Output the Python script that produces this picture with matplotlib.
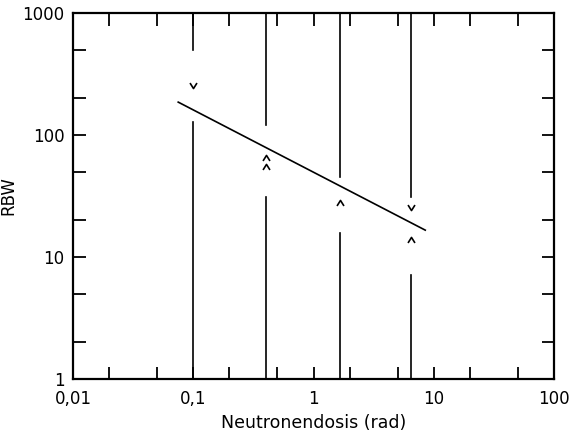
import matplotlib.pyplot as plt
from matplotlib.ticker import FixedLocator, NullFormatter

# vertical dose lines (rad) and where each one is interrupted
dose = [0.1, 0.4, 1.65, 6.5]
upper_end = [500, 121, 45, 31]     # upper segment runs from top down to here
lower_start = [128, 31, 15.7, 7.1]  # lower segment runs from bottom up to here

# RBW markers
down_x = [0.1, 6.5]
down_y = [250, 25]
up_x = [0.4, 0.4, 1.65, 6.5]
up_y = [66, 56, 28, 14]

# fitted line
fit_x = [0.075, 8.5]
fit_y = [186, 16.6]

xticks = [0.01, 0.1, 1, 10, 100]
xticklabels = ['0,01', '0,1', '1', '10', '100']
yticks = [1, 10, 100, 1000]
yticklabels = ['1', '10', '100', '1000']

fig = plt.figure(figsize=(5.71, 4.33), dpi=100)
ax = fig.add_axes([73 / 571, 1 - 379 / 433, 481 / 571, 366 / 433])
ax.set_xscale('log')
ax.set_yscale('log')
ax.set_xlim(0.01, 100)
ax.set_ylim(1, 1000)

for x, hi, lo in zip(dose, upper_end, lower_start):
    ax.plot([x, x], [hi, 1000], color='black', lw=1.2)
    ax.plot([x, x], [1, lo], color='black', lw=1.2)

ax.plot(fit_x, fit_y, color='black', lw=1.2)

vee = [(-1, 1), (0, -0.6), (1, 1)]
hat = [(-1, -1), (0, 0.6), (1, -1)]
ax.plot(down_x, down_y, ls='none', marker=vee, ms=5, mfc='none', mec='black', mew=1.2)
ax.plot(up_x, up_y, ls='none', marker=hat, ms=5, mfc='none', mec='black', mew=1.2)

minor_x = [m * 10.0 ** e for e in range(-2, 2) for m in (2, 5)]
minor_y = [m * 10.0 ** e for e in range(0, 3) for m in (2, 5)]
ax.xaxis.set_major_locator(FixedLocator(xticks))
ax.set_xticklabels(xticklabels)
ax.xaxis.set_minor_locator(FixedLocator(minor_x))
ax.xaxis.set_minor_formatter(NullFormatter())
ax.yaxis.set_major_locator(FixedLocator(yticks))
ax.set_yticklabels(yticklabels)
ax.yaxis.set_minor_locator(FixedLocator(minor_y))
ax.yaxis.set_minor_formatter(NullFormatter())

ax.tick_params(which='both', direction='in', top=True, right=True,
               length=9, width=1.3, labelsize=12)
ax.tick_params(axis='x', pad=8)
ax.tick_params(axis='y', pad=6)
for s in ax.spines.values():
    s.set_linewidth(1.6)

ax.set_xlabel('Neutronendosis (rad)', fontsize=12.5)
ax.xaxis.set_label_coords(0.5, -0.095)
ax.set_ylabel('RBW', fontsize=12)
ax.yaxis.set_label_coords(-0.115, 0.5)

fig.savefig('out.png', dpi=100)
